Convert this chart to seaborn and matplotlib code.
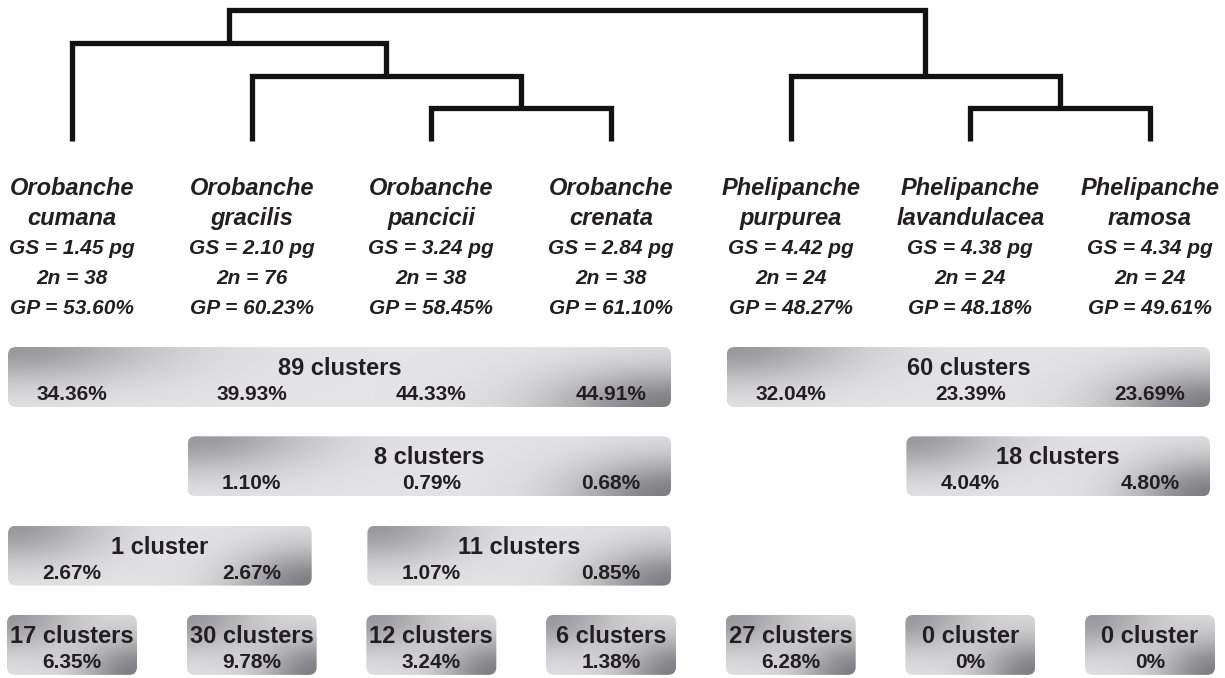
import numpy as np
import pandas as pd
import matplotlib
matplotlib.use("Agg")
import matplotlib.pyplot as plt
import seaborn as sns
from matplotlib.patches import FancyBboxPatch

# ---------------- data ----------------
genus = ["Orobanche"] * 4 + ["Phelipanche"] * 3
epithet = ["cumana", "gracilis", "pancicii", "crenata", "purpurea", "lavandulacea", "ramosa"]
genome_size = ["1.45", "2.10", "3.24", "2.84", "4.42", "4.38", "4.34"]
chrom_2n = [38, 76, 38, 38, 24, 24, 24]
genome_prop = ["53.60", "60.23", "58.45", "61.10", "48.27", "48.18", "49.61"]

# dendrogram merges (scipy-style ids: leaves 0-6, new nodes 7+)
merge_left = [2, 5, 1, 4, 0, 10]
merge_right = [3, 6, 7, 8, 9, 11]
merge_height = [1, 1, 2, 2, 3, 4]

# clusters shared by several species
shared_titles = ["89 clusters", "60 clusters", "8 clusters", "18 clusters", "1 cluster", "11 clusters"]
shared_members = [[0, 1, 2, 3], [4, 5, 6], [1, 2, 3], [5, 6], [0, 1], [2, 3]]
shared_pct = [["34.36%", "39.93%", "44.33%", "44.91%"],
              ["32.04%", "23.39%", "23.69%"],
              ["1.10%", "0.79%", "0.68%"],
              ["4.04%", "4.80%"],
              ["2.67%", "2.67%"],
              ["1.07%", "0.85%"]]
shared_row = [0, 0, 1, 1, 2, 2]

# species-specific clusters
specific_titles = ["17 clusters", "30 clusters", "12 clusters", "6 clusters",
                   "27 clusters", "0 cluster", "0 cluster"]
specific_pct = ["6.35%", "9.78%", "3.24%", "1.38%", "6.28%", "0%", "0%"]

# ---------------- style / layout ----------------
sns.set_theme(style="white")
plt.rcParams["font.family"] = ["Liberation Sans", "DejaVu Sans"]
plt.rcParams["lines.solid_joinstyle"] = "miter"
plt.rcParams["lines.solid_capstyle"] = "butt"

INK = "#231f20"
W, H = 1225, 678
X0_PX, DX_PX = 72.0, 179.67
TREE_BASE, TREE_STEP = 141.0, 32.75
ROW_TOP0, ROW_STEP, BOX_H = 347.0, 89.3, 60.0

fig = plt.figure(figsize=(W / 100, H / 100), dpi=100)
fig.patch.set_facecolor("white")
ax = fig.add_axes([0, 0, 1, 1])

def set_limits():
    ax.set_xlim(-X0_PX / DX_PX, (W - X0_PX) / DX_PX)
    ax.set_ylim(H, 0)

set_limits()

# ---------------- dendrogram ----------------
node_x = {i: float(i) for i in range(len(epithet))}
node_h = {i: 0.0 for i in range(len(epithet))}
rows = []
for k, (l, r, h) in enumerate(zip(merge_left, merge_right, merge_height)):
    nid = len(epithet) + k
    node_x[nid] = (node_x[l] + node_x[r]) / 2
    node_h[nid] = h
    pts = [(node_x[l], node_h[l]), (node_x[l], h), (node_x[r], h), (node_x[r], node_h[r])]
    for j, (px, ph) in enumerate(pts):
        rows.append({"link": k, "order": j, "x": px, "y": TREE_BASE - ph * TREE_STEP})
tree_df = pd.DataFrame(rows)
sns.lineplot(data=tree_df, x="x", y="y", units="link", estimator=None, sort=False,
             color="#121212", linewidth=3.8, ax=ax, legend=False)

# ---------------- species labels ----------------
label_base, label_step = 195.0, 29.7
for i in range(len(epithet)):
    lines = [genus[i], epithet[i], f"GS = {genome_size[i]} pg",
             f"2n = {chrom_2n[i]}", f"GP = {genome_prop[i]}%"]
    for k, s in enumerate(lines):
        ax.text(i, label_base + k * label_step, s, ha="center", va="baseline",
                fontsize=17 if k < 2 else 15, fontweight="bold", style="italic", color=INK)

# ---------------- gradient boxes ----------------
LIGHT = np.array([0.895, 0.895, 0.905])
DARK = np.array([0.36, 0.36, 0.38])

def gradient_box(xl, xr, top, h):
    set_limits()
    p0 = ax.transData.transform((xl, top))
    p1 = ax.transData.transform((xr, top + h))
    wpx, hpx = abs(p1[0] - p0[0]), abs(p1[1] - p0[1])
    nx, ny = max(int(round(wpx)), 2), max(int(round(hpx)), 2)
    X, Y = np.meshgrid(np.arange(nx) + 0.5, np.arange(ny) + 0.5)
    s1 = 50 + 0.15 * wpx
    s2 = 40 + 0.12 * wpx
    d1 = 0.55 * np.exp(-(X / s1) ** 2 - (Y / 36) ** 2)
    d2 = 0.75 * np.exp(-((wpx - X) / s2) ** 2 - ((hpx - Y) / 38) ** 2)
    D = 1 - (1 - d1) * (1 - d2)
    img = LIGHT * (1 - D[..., None]) + DARK * D[..., None]
    patch = FancyBboxPatch((xl, top), xr - xl, h,
                           boxstyle=f"round,pad=0,rounding_size={8 / DX_PX}",
                           mutation_aspect=DX_PX, facecolor="none", edgecolor="none", zorder=1)
    ax.add_patch(patch)
    im = ax.imshow(img, extent=(xl, xr, top + h, top), aspect="auto",
                   interpolation="bilinear", zorder=1)
    im.set_clip_path(patch)

left_pad, right_pad = 64 / DX_PX, 60 / DX_PX
for t, mem, pcts, r in zip(shared_titles, shared_members, shared_pct, shared_row):
    top = ROW_TOP0 + r * ROW_STEP
    xl, xr = min(mem) - left_pad, max(mem) + right_pad
    gradient_box(xl, xr, top, BOX_H)
    ax.text((xl + xr) / 2, top + 28, t, ha="center", va="baseline", fontsize=17,
            fontweight="bold", color=INK, zorder=3)
    for m, p in zip(mem, pcts):
        ax.text(m, top + 53, p, ha="center", va="baseline", fontsize=15,
                fontweight="bold", color=INK, zorder=3)

half_w = 65 / DX_PX
top = ROW_TOP0 + 3 * ROW_STEP
for i, (t, p) in enumerate(zip(specific_titles, specific_pct)):
    gradient_box(i - half_w, i + half_w, top, BOX_H)
    ax.text(i, top + 28, t, ha="center", va="baseline", fontsize=17,
            fontweight="bold", color=INK, zorder=3)
    ax.text(i, top + 53, p, ha="center", va="baseline", fontsize=15,
            fontweight="bold", color=INK, zorder=3)

set_limits()
ax.set_axis_off()
fig.savefig("out.png", dpi=100, facecolor="white")
